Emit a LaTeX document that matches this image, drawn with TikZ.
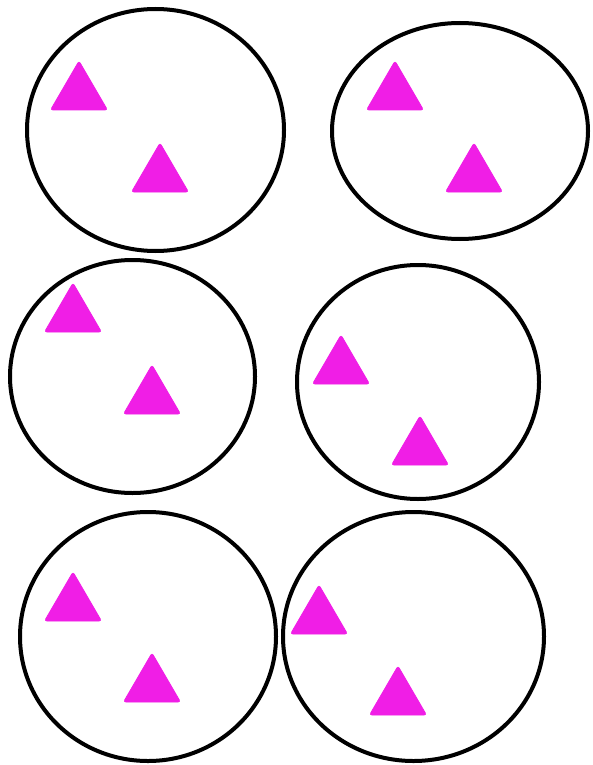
\documentclass[tikz,border=0pt]{standalone}
\usetikzlibrary{shapes.geometric}
\definecolor{tri}{RGB}{240,30,230}
\tikzset{
  ring/.style={draw=black, line width=4pt, ellipse, inner sep=0pt, outer sep=0pt},
  tribox/.style={fill=tri, draw=tri, line width=0.8pt, rounded corners=2.5pt, line join=round}
}
\newcommand{\tria}[2]{\fill[tribox] (#1,#2-1) -- (#1+28.5,#2+48) -- (#1-28.5,#2+48) -- cycle;}
\begin{document}
\begin{tikzpicture}[x=1pt,y=-1pt]
\useasboundingbox (0,0) rectangle (592,765);
\fill[white] (0,0) rectangle (592,765);
\node[ring, minimum width=257pt, minimum height=242pt] (e1) at (155.5,130) {};
\node[ring, minimum width=256pt, minimum height=216pt] (e2) at (460,131) {};
\node[ring, minimum width=245pt, minimum height=233pt] (e3) at (132.5,376.5) {};
\node[ring, minimum width=242pt, minimum height=234pt] (e4) at (418,382) {};
\node[ring, minimum width=256pt, minimum height=249pt] (e5) at (148,636.5) {};
\node[ring, minimum width=261pt, minimum height=249pt] (e6) at (413.5,636.5) {};
\tria{79}{62}
\tria{160}{144}
\tria{395}{62}
\tria{474}{144}
\tria{73}{284}
\tria{152}{366}
\tria{341}{336}
\tria{420}{417}
\tria{73}{573}
\tria{152}{654}
\tria{319}{586}
\tria{398}{667}
\end{tikzpicture}
\end{document}
